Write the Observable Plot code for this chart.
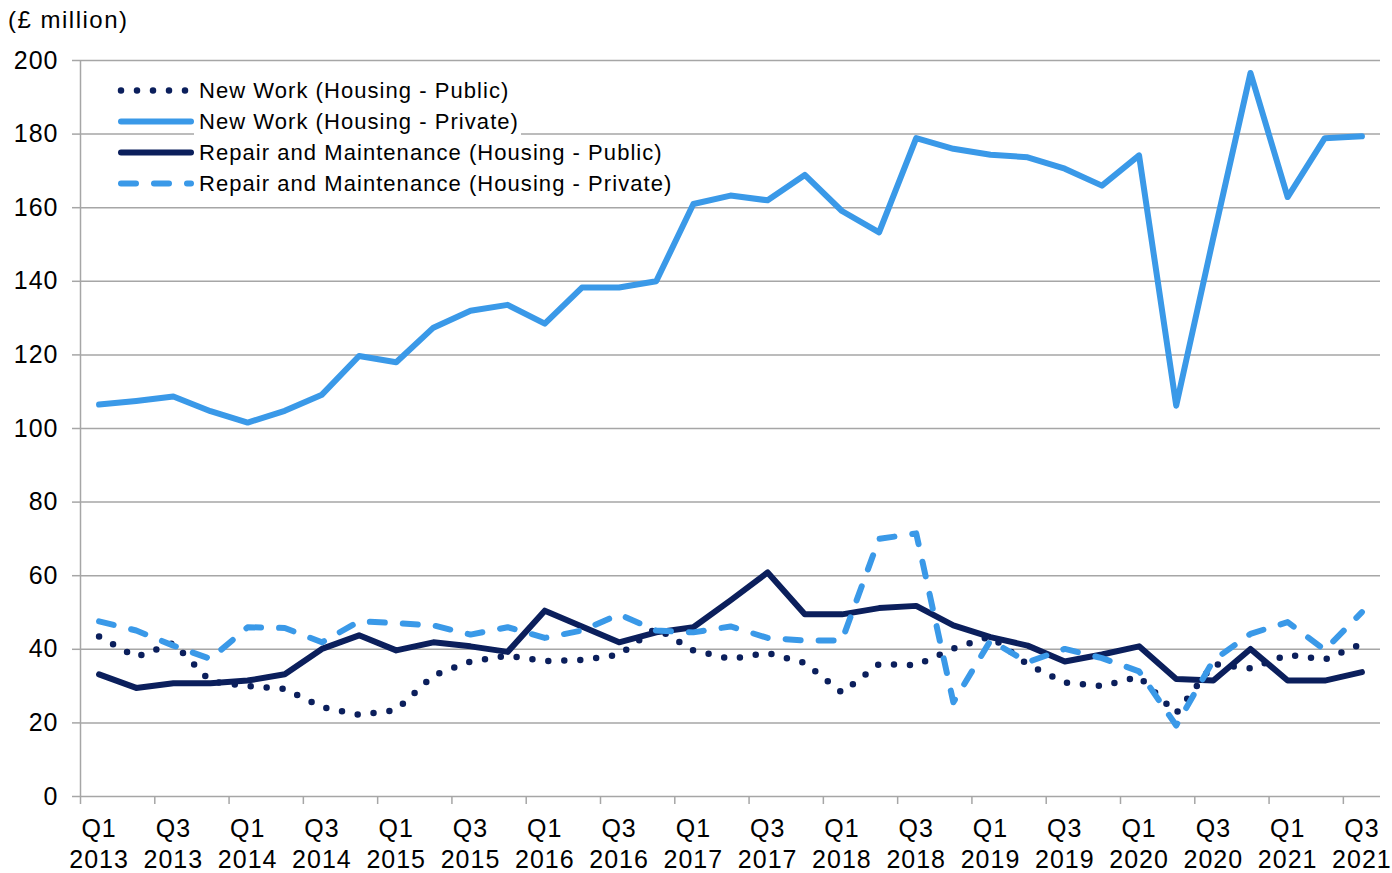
<!DOCTYPE html>
<html>
<head>
<meta charset="utf-8">
<script src="https://cdn.jsdelivr.net/npm/d3@7"></script>
<script src="https://cdn.jsdelivr.net/npm/@observablehq/plot@0.6"></script>
<style>
  html, body { margin: 0; padding: 0; background: #fff; }
  #wrap { position: relative; width: 1392px; height: 873px; font-family: "Liberation Sans", Arial, sans-serif; }
  #chart svg text { letter-spacing: 1px; }
  #unit { position: absolute; left: 8px; top: 6px; font-size: 24px; line-height: 28px; letter-spacing: 1.5px; color: #000; }
  #legend { position: absolute; left: 114px; top: 75px; }
  .row { display: flex; align-items: center; height: 31px; }
  .row svg { display: block; }
  .row span { font-size: 22px; letter-spacing: 1.05px; color: #000; background: #fff; line-height: 26px; padding-left: 5px; padding-right: 2px; }
</style>
</head>
<body>
<div id="wrap">
  <div id="chart"></div>
  <div id="unit">(£ million)</div>
  <div id="legend"></div>
</div>
<script>
// ---- Data ----
const quarters = [
  "Q1 2013","Q2 2013","Q3 2013","Q4 2013",
  "Q1 2014","Q2 2014","Q3 2014","Q4 2014",
  "Q1 2015","Q2 2015","Q3 2015","Q4 2015",
  "Q1 2016","Q2 2016","Q3 2016","Q4 2016",
  "Q1 2017","Q2 2017","Q3 2017","Q4 2017",
  "Q1 2018","Q2 2018","Q3 2018","Q4 2018",
  "Q1 2019","Q2 2019","Q3 2019","Q4 2019",
  "Q1 2020","Q2 2020","Q3 2020","Q4 2020",
  "Q1 2021","Q2 2021","Q3 2021"
];

const newWorkPublic = [43.5, 37.9, 41.7, 31.3, 30.0, 29.2, 24.3, 22.2, 23.5, 32.9,
                       36.7, 38.3, 36.8, 37.1, 38.5, 45.8, 39.7, 37.4, 39.0, 36.3,
                       28.2, 36.0, 35.7, 40.2, 43.5, 35.9, 31.0, 30.0, 32.6, 22.6,
                       36.0, 34.8, 38.5, 37.2, 41.5];

const newWorkPrivate = [106.5, 107.5, 108.7, 104.7, 101.6, 104.8, 109.2, 119.7, 118.0, 127.4,
                        132.0, 133.6, 128.5, 138.3, 138.3, 140.0, 161.0, 163.3, 162.0, 168.9,
                        159.1, 153.3, 178.9, 176.0, 174.4, 173.7, 170.6, 166.0, 174.2, 106.2,
                        151.9, 196.6, 162.9, 178.9, 179.4];

const repairPublic = [33.2, 29.5, 30.8, 30.8, 31.5, 33.2, 40.1, 43.8, 39.7, 41.9,
                      40.8, 39.3, 50.5, 46.2, 41.9, 44.6, 46.0, 53.3, 60.9, 49.5,
                      49.5, 51.2, 51.8, 46.5, 43.3, 41.0, 36.7, 38.6, 40.8, 31.9,
                      31.5, 40.1, 31.5, 31.5, 33.8];

const repairPrivate = [47.6, 45.1, 41.0, 37.4, 46.0, 45.8, 41.9, 47.6, 47.1, 46.5,
                       44.0, 46.0, 43.1, 45.1, 49.5, 45.1, 44.6, 46.2, 43.1, 42.4,
                       42.4, 70.0, 71.5, 25.6, 42.4, 36.5, 40.1, 37.6, 34.0, 19.3,
                       37.0, 44.2, 47.4, 39.8, 50.1];

const seriesNames = [
  "New Work (Housing - Public)",
  "New Work (Housing - Private)",
  "Repair and Maintenance (Housing - Public)",
  "Repair and Maintenance (Housing - Private)"
];

const xTickLabels = ["Q1\n2013","Q3\n2013","Q1\n2014","Q3\n2014","Q1\n2015","Q3\n2015",
                     "Q1\n2016","Q3\n2016","Q1\n2017","Q3\n2017","Q1\n2018","Q3\n2018",
                     "Q1\n2019","Q3\n2019","Q1\n2020","Q3\n2020","Q1\n2021","Q3\n2021"];

const yTicks = [0, 20, 40, 60, 80, 100, 120, 140, 160, 180, 200];

// ---- Styles ----
const navy = "#0b1f5c";
const light = "#3a99e8";
const gridColor = "#a6a6a6";

const styles = [
  {stroke: navy, strokeWidth: 6.5, strokeDasharray: "0,16"},
  {stroke: light, strokeWidth: 6},
  {stroke: navy, strokeWidth: 6},
  {stroke: light, strokeWidth: 6, strokeDasharray: "15,18"}
];
const seriesValues = [newWorkPublic, newWorkPrivate, repairPublic, repairPrivate];

const xLabelPos = xTickLabels.map((_, k) => quarters.indexOf(xTickLabels[k].replace("\n", " ")));
const xBoundary = xLabelPos.map(i => i - 0.5);

const lineMarks = seriesValues.map((vals, s) =>
  Plot.line(vals, {
    x: (d, i) => i,
    y: d => d,
    ...styles[s],
    strokeLinecap: "round",
    strokeLinejoin: "round"
  })
);

const chart = Plot.plot({
  width: 1392,
  height: 873,
  marginLeft: 80,
  marginRight: 12,
  marginTop: 60,
  marginBottom: 77,
  style: {fontFamily: "'Liberation Sans', Arial, sans-serif", fontSize: "25px", color: "#000", background: "#fff", overflow: "visible"},
  x: {type: "linear", domain: [-0.5, quarters.length - 0.5]},
  y: {domain: [0, 200]},
  marks: [
    Plot.gridY(yTicks.filter(d => d > 0), {stroke: gridColor, strokeOpacity: 1, strokeWidth: 1.5}),
    Plot.ruleY([0], {stroke: gridColor, strokeWidth: 1.5}),
    Plot.ruleX([-0.5], {stroke: gridColor, strokeWidth: 1.5}),
    Plot.axisY(yTicks, {tickSize: 8, tickPadding: 14, stroke: gridColor, strokeWidth: 1.5, label: null, fontSize: 25, fill: "#000"}),
    Plot.axisX(xBoundary, {tickSize: 8, tickFormat: () => "", stroke: gridColor, strokeWidth: 1.5, label: null}),
    Plot.axisX(xLabelPos, {tickSize: 0, tickPadding: 19, tickFormat: i => xTickLabels[xLabelPos.indexOf(i)], lineHeight: 1.22, label: null, fontSize: 25, fill: "#000"}),
    ...lineMarks
  ]
});
document.getElementById("chart").appendChild(chart);

// ---- Legend ----
const legend = document.getElementById("legend");
seriesNames.forEach((name, s) => {
  const row = document.createElement("div");
  row.className = "row";
  const st = styles[s];
  row.innerHTML =
    `<svg width="80" height="31"><line x1="7" x2="77" y1="15.5" y2="15.5" stroke="${st.stroke}" stroke-width="${st.strokeWidth}" stroke-linecap="round" ${st.strokeDasharray ? `stroke-dasharray="${st.strokeDasharray}"` : ""}/></svg><span>${name}</span>`;
  legend.appendChild(row);
});
</script>
</body>
</html>
